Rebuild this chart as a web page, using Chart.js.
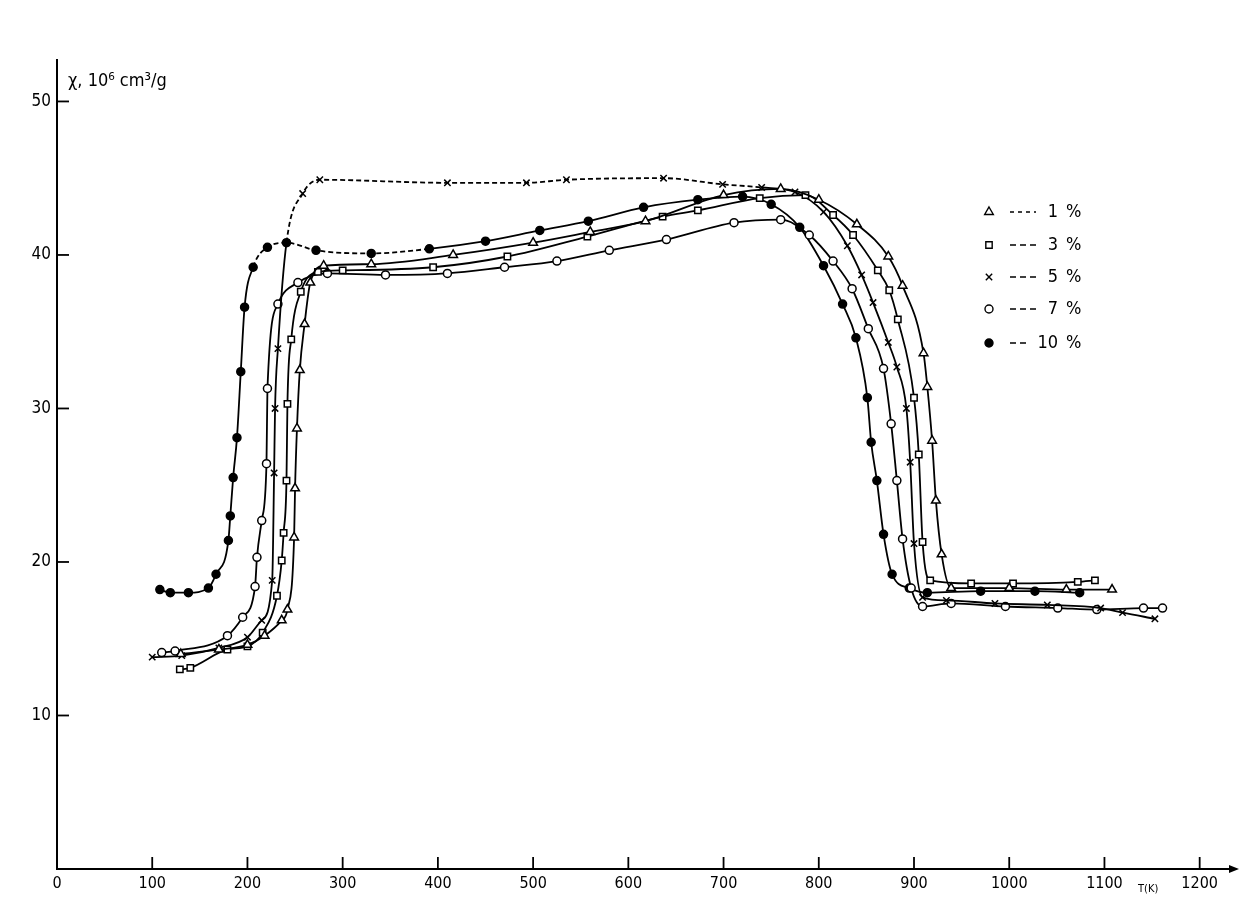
<!DOCTYPE html>
<html>
<head>
<meta charset="utf-8">
<script src="https://cdn.jsdelivr.net/npm/chart.js@4.4.1/dist/chart.umd.min.js"></script>
<style>
  html, body { margin: 0; padding: 0; background: #fff; }
  #wrap { width: 1242px; height: 898px; position: relative; }
</style>
</head>
<body>
<div id="wrap"><canvas id="chi"></canvas></div>
<script>
// temperature (K) / susceptibility (10^6 cm3/g)
const xTicks = [0, 100, 200, 300, 400, 500, 600, 700, 800, 900, 1000, 1100, 1200];
const yTicks = [10, 20, 30, 40, 50];
const seriesNames = ['1 %', '3 %', '5 %', '7 %', '10 %'];

const pct1 = [[130,14.0],[170,14.3],[200,14.6],[218,15.2],[236,16.2],[242,16.9],[249,21.6],[250,24.8],[252,28.7],[255,32.5],[260,35.5],[266,38.2],[280,39.3],[330,39.4],[416,40.0],[500,40.8],[560,41.5],[618,42.2],[700,43.9],[760,44.3],[800,43.6],[840,42.0],[873,39.9],[888,38.0],[910,33.6],[914,31.4],[919,27.9],[923,24.0],[929,20.5],[939,18.3],[1000,18.3],[1060,18.2],[1108,18.2]];
const pct3 = [[129,13.0],[140,13.1],[179,14.3],[200,14.5],[216,15.4],[231,17.8],[236,20.1],[238,21.9],[241,25.3],[242,30.3],[246,34.5],[256,37.6],[274,38.9],[300,39.0],[395,39.2],[473,39.9],[557,41.2],[636,42.5],[673,42.9],[738,43.7],[786,43.9],[815,42.6],[836,41.3],[862,39.0],[874,37.7],[883,35.8],[900,30.7],[905,27.0],[909,21.3],[917,18.8],[960,18.6],[1004,18.6],[1072,18.7],[1090,18.8]];
const pct5 = [[100,13.8],[131,13.9],[170,14.4],[200,15.1],[215,16.2],[226,18.8],[228,25.8],[229,30.0],[232,33.9],[241,40.8],[258,44.0],[276,44.9],[410,44.7],[493,44.7],[535,44.9],[637,45.0],[699,44.6],[740,44.4],[775,44.1],[805,42.8],[830,40.6],[845,38.7],[857,36.9],[873,34.3],[882,32.7],[892,30.0],[896,26.5],[900,21.2],[909,17.7],[934,17.5],[985,17.3],[1040,17.2],[1096,17.0],[1119,16.7],[1153,16.3]];
const pct7 = [[110,14.1],[124,14.2],[179,15.2],[195,16.4],[208,18.4],[210,20.3],[215,22.7],[220,26.4],[221,31.3],[232,36.8],[253,38.2],[284,38.8],[345,38.7],[410,38.8],[470,39.2],[525,39.6],[580,40.3],[640,41.0],[711,42.1],[760,42.3],[790,41.3],[815,39.6],[835,37.8],[852,35.2],[868,32.6],[876,29.0],[882,25.3],[888,21.5],[897,18.3],[909,17.1],[939,17.3],[996,17.1],[1051,17.0],[1092,16.9],[1141,17.0],[1161,17.0]];
const pct10 = [[108,18.2],[119,18.0],[138,18.0],[159,18.3],[167,19.2],[180,21.4],[182,23.0],[185,25.5],[189,28.1],[193,32.4],[197,36.6],[206,39.2],[221,40.5],[241,40.8],[272,40.3],[330,40.1],[391,40.4],[450,40.9],[507,41.6],[558,42.2],[616,43.1],[673,43.6],[720,43.8],[750,43.3],[780,41.8],[805,39.3],[825,36.8],[839,34.6],[851,30.7],[855,27.8],[861,25.3],[868,21.8],[877,19.2],[895,18.3],[914,18.0],[970,18.1],[1027,18.1],[1074,18.0]];

const FONT = '"Liberation Sans Narrow", "DejaVu Sans Condensed", sans-serif';
const styles = [
    { style: 'triangle', fill: '#fff', r: 5 },
    { style: 'rect', fill: '#fff', r: 4.5 },
    { style: 'crossRot', fill: '#000', r: 4.5 },
    { style: 'circle', fill: '#fff', r: 4 },
    { style: 'circle', fill: '#000', r: 4 }
];

let dashBetween = function (from, to) {
    return function (ctx) {
        return (ctx.p0.parsed.x >= from && ctx.p1.parsed.x <= to) ? [5, 3] : undefined;
    };
};

let makeSet = function (points, i, dash) {
    let set = {
        label: seriesNames[i],
        data: points.map(p => ({ x: p[0], y: p[1] })),
        showLine: true,
        borderColor: '#000',
        borderWidth: 1.8,
        cubicInterpolationMode: 'monotone',
        pointStyle: styles[i].style,
        pointRadius: styles[i].r,
        pointBackgroundColor: styles[i].fill,
        pointBorderColor: '#000',
        pointBorderWidth: 1.5
    };
    if (dash) set.segment = { borderDash: dash };
    return set;
};

const decor = {
    id: 'decor',
    afterDraw(chart) {
        let ctx = chart.ctx;
        let a = chart.chartArea;
        let xs = chart.scales.x, ys = chart.scales.y;
        ctx.save();
        ctx.strokeStyle = '#000';
        ctx.fillStyle = '#000';
        ctx.lineWidth = 1.8;
        // tick marks drawn inside the axes
        xTicks.forEach(v => {
            if (v === 0) return;
            let px = xs.getPixelForValue(v);
            ctx.beginPath(); ctx.moveTo(px, a.bottom); ctx.lineTo(px, a.bottom - 12); ctx.stroke();
        });
        yTicks.forEach(v => {
            let py = ys.getPixelForValue(v);
            ctx.beginPath(); ctx.moveTo(a.left, py); ctx.lineTo(a.left + 12, py); ctx.stroke();
        });
        // arrow at the end of the temperature axis
        ctx.beginPath();
        ctx.moveTo(a.right + 6, a.bottom);
        ctx.lineTo(a.right - 4, a.bottom - 4);
        ctx.lineTo(a.right - 4, a.bottom + 4);
        ctx.closePath(); ctx.fill();

        // axis titles
        ctx.font = '18px ' + FONT;
        ctx.textBaseline = 'alphabetic';
        ctx.textAlign = 'left';
        ctx.fillText('χ, 10⁶ cm³/g', 68, 86);
        ctx.font = '11px ' + FONT;
        ctx.fillText('T(K)', 1138, 892);

        // legend
        let rows = [212, 245, 277, 309, 343];
        ctx.font = '18px ' + FONT;
        rows.forEach((y, i) => {
            ctx.fillStyle = styles[i].fill;
            ctx.strokeStyle = '#000';
            ctx.lineWidth = 1.4;
            Chart.helpers.drawPoint(ctx, { pointStyle: styles[i].style, radius: styles[i].r, rotation: 0, borderWidth: 1.4 }, 989, y);
            ctx.fillStyle = '#000';
            ctx.lineWidth = 1.5;
            ctx.beginPath();
            ctx.setLineDash(i === 0 ? [4, 4] : [6, 4]);
            ctx.moveTo(1010, y); ctx.lineTo(i === 4 ? 1030 : 1036, y); ctx.stroke();
            ctx.setLineDash([]);
            let parts = seriesNames[i].split(' ');
            ctx.textAlign = 'right';
            ctx.textBaseline = 'middle';
            ctx.fillText(parts[0], 1058, y);
            ctx.textAlign = 'left';
            ctx.fillText(parts[1], 1066, y);
        });
        ctx.restore();
    }
};

let canvas = document.getElementById('chi').getContext('2d');
let chart = new Chart(canvas, {
    type: 'scatter',
    data: {
        datasets: [
            makeSet(pct1, 0),
            makeSet(pct3, 1),
            makeSet(pct5, 2, dashBetween(240, 745)),
            makeSet(pct7, 3),
            makeSet(pct10, 4, dashBetween(205, 395))
        ]
    },
    options: {
        responsive: true,
        maintainAspectRatio: false,
        animation: false,
        devicePixelRatio: 1,
        layout: { padding: { top: 60, right: 9, left: 0, bottom: 0 } },
        plugins: { legend: { display: false }, tooltip: { enabled: false } },
        scales: {
            x: {
                type: 'linear',
                min: 0,
                max: 1235,
                afterBuildTicks: s => { s.ticks = xTicks.map(v => ({ value: v })); },
                afterFit: s => { s.height = 29; },
                grid: { display: false, drawTicks: false },
                border: { display: true, color: '#000', width: 2 },
                ticks: { color: '#000', font: { size: 16, family: FONT }, padding: 5, maxRotation: 0, autoSkip: false, callback: v => String(v) }
            },
            y: {
                type: 'linear',
                min: 0,
                max: 52.7,
                afterBuildTicks: s => { s.ticks = yTicks.map(v => ({ value: v })); },
                afterFit: s => { s.width = 57; },
                grid: { display: false, drawTicks: false },
                border: { display: true, color: '#000', width: 2 },
                ticks: { color: '#000', font: { size: 17, family: FONT }, padding: 6, callback: v => String(v) }
            }
        }
    },
    plugins: [decor]
});
</script>
</body>
</html>
